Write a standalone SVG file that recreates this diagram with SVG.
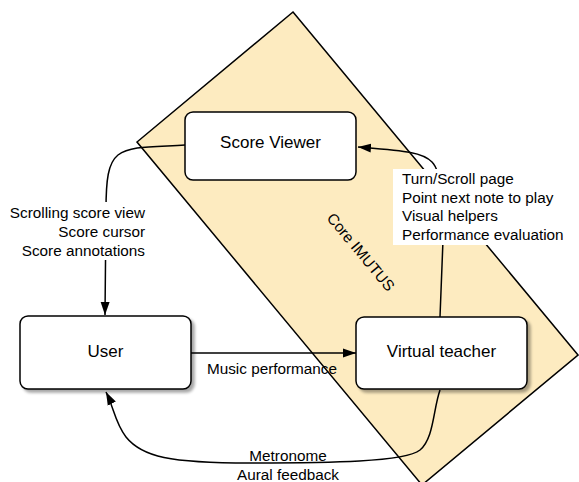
<svg xmlns="http://www.w3.org/2000/svg" width="579" height="482" viewBox="0 0 579 482">
<style>
.node rect{fill:#ffffff;stroke:#000000;stroke-width:1.5;}
.ntext{font-family:"Liberation Sans",Arial,sans-serif;font-size:17px;fill:#000000;text-anchor:middle;dominant-baseline:central;}
.ltext{font-family:"Liberation Sans",Arial,sans-serif;font-size:15.3px;fill:#000000;}
.conn{fill:none;stroke:#000000;stroke-width:1.5;}
.lbg{fill:#ffffff;stroke:none;}
</style>
<defs>
<marker id="arr" markerUnits="userSpaceOnUse" markerWidth="14" markerHeight="10" refX="13" refY="5" orient="auto">
<path d="M0,0.5 L13,5 L0,9.5 z" fill="#000000"/>
</marker>
<filter id="sh" x="-10%" y="-10%" width="130%" height="140%">
<feGaussianBlur in="SourceAlpha" stdDeviation="1.5"/>
<feOffset dx="3" dy="3" result="b"/>
<feComponentTransfer><feFuncA type="linear" slope="0.35"/></feComponentTransfer>
<feMerge><feMergeNode/><feMergeNode in="SourceGraphic"/></feMerge>
</filter>
</defs>
<rect width="579" height="482" fill="#ffffff"/>
<g id="core-imutus">
<polygon points="293,12 578,355 422,485 137,142" fill="#fdebc0" stroke="#000000" stroke-width="1.5"/>
<text class="ltext" x="361" y="252" text-anchor="middle" dominant-baseline="central" transform="rotate(50.3 361 252)">Core IMUTUS</text>
</g>
<g id="connectors">
<path class="conn" d="M185,145 C150,147 130,146 118,155 C108,163 106,180 106,210 L105,315" marker-end="url(#arr)"/>
<path class="conn" d="M440,317 L443,240 C443,205 442,172 432,162 C422,152 405,151 358,147" marker-end="url(#arr)"/>
<path class="conn" d="M191,353 L356,353" marker-end="url(#arr)"/>
<path class="conn" d="M440,390 C433,410 434,438 420,450 C405,462 330,463 250,463 C170,463 142,457 126,437 C115,423 114,408 106,392" marker-end="url(#arr)"/>
<rect class="lbg" x="5" y="202" width="143" height="58"/>
<text class="ltext" text-anchor="end"><tspan x="145" y="218">Scrolling score view</tspan><tspan x="145" y="237">Score cursor</tspan><tspan x="145" y="256">Score annotations</tspan></text>
<rect class="lbg" x="393" y="169" width="174" height="76"/>
<text class="ltext"><tspan x="402" y="184">Turn/Scroll page</tspan><tspan x="402" y="202.5">Point next note to play</tspan><tspan x="402" y="221">Visual helpers</tspan><tspan x="402" y="239.5">Performance evaluation</tspan></text>
<text class="ltext" x="272" y="374" text-anchor="middle">Music performance</text>
<text class="ltext" x="288" y="461" text-anchor="middle">Metronome</text>
<text class="ltext" x="288" y="480" text-anchor="middle">Aural feedback</text>
</g>
<g id="score-viewer" class="node">
<rect x="185" y="112" width="171" height="68" rx="8" ry="8"/>
<text class="ntext" x="270.5" y="142">Score Viewer</text>
</g>
<g id="user" class="node">
<rect x="20" y="316" width="171" height="73" rx="8" ry="8" filter="url(#sh)"/>
<text class="ntext" x="105.5" y="351">User</text>
</g>
<g id="virtual-teacher" class="node">
<rect x="356" y="317" width="171" height="72" rx="8" ry="8" filter="url(#sh)"/>
<text class="ntext" x="441.5" y="351">Virtual teacher</text>
</g>
</svg>
